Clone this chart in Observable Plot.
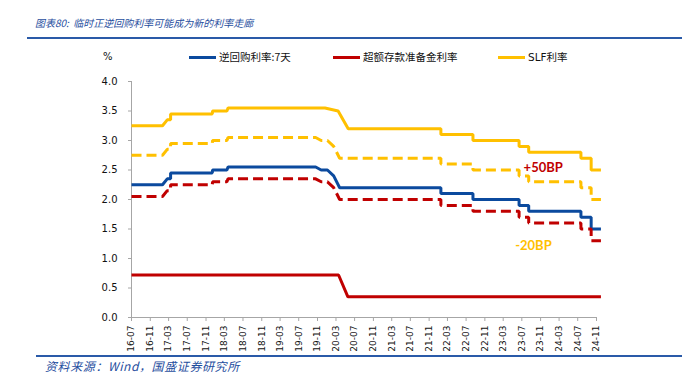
<!DOCTYPE html>
<html><head><meta charset="utf-8">
<script src="https://cdn.jsdelivr.net/npm/d3@7"></script>
<script src="https://cdn.jsdelivr.net/npm/@observablehq/plot@0.6"></script>
<style>
body{margin:0;background:#fff;}
#wrap{position:relative;width:682px;height:378px;overflow:hidden;font-family:"Noto Sans CJK SC",sans-serif;}
.title{position:absolute;left:35px;top:15px;font-size:10px;font-style:italic;color:#1f4e9e;white-space:nowrap;line-height:16px;}
.foot{position:absolute;left:45px;top:358px;font-size:12px;letter-spacing:0.6px;font-style:italic;color:#1f4e9e;white-space:nowrap;line-height:16px;}
.rule{position:absolute;right:0;height:2px;background:#2a5aa8;}
.leg{position:absolute;top:49px;font-size:10.5px;line-height:16px;color:#111;white-space:nowrap;display:flex;align-items:center;}
.sw{display:inline-block;width:27px;height:3px;margin-right:3px;}
#chart{position:absolute;left:0;top:60px;}
</style>
</head>
<body>
<div id="wrap">
  <div class="title">图表80:&nbsp;&nbsp;临时正逆回购利率可能成为新的利率走廊</div>
  <div class="rule" style="left:27px;top:37px;"></div>
  <div id="legend"></div>
  <div id="chart"></div>
  <div class="rule" style="left:36px;top:355px;"></div>
  <div class="foot">资料来源：Wind，国盛证券研究所</div>
</div>
<script>
// ---- data ----
const seriesNames = ["逆回购利率:7天", "超额存款准备金利率", "SLF利率"];
const seriesColors = ["#0b4a9e", "#c00000", "#ffc000"];

const repoDates = ["2016-07-01","2017-01-20","2017-02-20","2017-03-14","2017-03-14","2017-12-12","2017-12-14","2018-03-18","2018-03-25","2019-10-20","2019-11-25","2020-01-05","2020-02-15","2020-03-25","2022-01-17","2022-01-17","2022-08-15","2022-08-15","2023-06-13","2023-06-13","2023-08-15","2023-08-15","2024-07-22","2024-07-22","2024-09-27","2024-09-27","2024-11-30"];
const repoValues = [2.25,2.25,2.35,2.35,2.45,2.45,2.50,2.50,2.55,2.55,2.50,2.50,2.40,2.20,2.20,2.10,2.10,2.00,2.00,1.90,1.90,1.80,1.80,1.70,1.70,1.50,1.50];

// 逆回购 +50BP (upper, yellow dashed)
const upperValues = [2.75,2.75,2.85,2.85,2.95,2.95,3.00,3.00,3.05,3.05,3.00,3.00,2.90,2.70,2.70,2.60,2.60,2.50,2.50,2.40,2.40,2.30,2.30,2.20,2.20,2.00,2.00];
// 逆回购 -20BP (lower, red dashed)
const lowerValues = [2.05,2.05,2.15,2.15,2.25,2.25,2.30,2.30,2.35,2.35,2.30,2.30,2.20,2.00,2.00,1.90,1.90,1.80,1.80,1.70,1.70,1.60,1.60,1.50,1.50,1.30,1.30];

const slfDates = ["2016-07-01","2017-01-20","2017-02-20","2017-03-14","2017-03-14","2017-12-12","2017-12-14","2018-03-18","2018-03-25","2019-12-20","2020-03-15","2020-05-20","2022-01-17","2022-01-17","2022-08-15","2022-08-15","2023-06-13","2023-06-13","2023-08-15","2023-08-15","2024-07-22","2024-07-22","2024-09-27","2024-09-27","2024-11-30"];
const slfValues = [3.25,3.25,3.35,3.35,3.45,3.45,3.50,3.50,3.55,3.55,3.50,3.20,3.20,3.10,3.10,3.00,3.00,2.90,2.90,2.80,2.80,2.70,2.70,2.50,2.50];

const ioerDates = ["2016-07-01","2020-03-18","2020-05-18","2024-11-30"];
const ioerValues = [0.72,0.72,0.35,0.35];

const xTickLabels = ["16-07","16-11","17-03","17-07","17-11","18-03","18-07","18-11","19-03","19-07","19-11","20-03","20-07","20-11","21-03","21-07","21-11","22-03","22-07","22-11","23-03","23-07","23-11","24-03","24-07","24-11"];
const yTicks = [0,0.5,1,1.5,2,2.5,3,3.5,4];

const noteTexts = ["+50BP", "-20BP"];
const noteDates = ["2023-11-18", "2023-09-15"];
const noteValues = [2.54, 1.22];
const noteColors = ["#c00000", "#ffc000"];

// ---- build ----
const parse = d3.utcParse("%Y-%m-%d");
const parseTick = d3.utcParse("%y-%m");
const fmtTick = d3.utcFormat("%y-%m");
const rows = (dates, vals) => dates.map((d, i) => ({date: parse(d), value: vals[i]}));
const repo = rows(repoDates, repoValues);
const upper = rows(repoDates, upperValues);
const lower = rows(repoDates, lowerValues);
const slf = rows(slfDates, slfValues);
const ioer = rows(ioerDates, ioerValues);
const tickDates = xTickLabels.map(parseTick);
const notes = noteTexts.map((t, i) => ({text: t, date: parse(noteDates[i]), value: noteValues[i], color: noteColors[i]}));

// legend
const legend = document.getElementById("legend");
const pct = document.createElement("div");
pct.className = "leg"; pct.style.left = "103px"; pct.style.fontFamily = "DejaVu Sans"; pct.style.fontSize = "10px";
pct.textContent = "%";
legend.appendChild(pct);
const legLeft = [189, 333, 498];
seriesNames.forEach((n, i) => {
  const d = document.createElement("div");
  d.className = "leg"; d.style.left = legLeft[i] + "px";
  if (i === 2) d.style.fontFamily = "DejaVu Sans, 'Noto Sans CJK SC'";
  d.innerHTML = `<span class="sw" style="background:${seriesColors[i]}"></span><span>${n}</span>`;
  legend.appendChild(d);
});

const solid = {strokeWidth: 3, strokeLinejoin: "miter", strokeLinecap: "butt"};
const dashed = {strokeWidth: 3, strokeLinejoin: "miter", strokeLinecap: "butt", strokeDasharray: "10,5"};

const plot = Plot.plot({
  width: 682, height: 296,
  marginLeft: 131, marginRight: 86, marginTop: 21, marginBottom: 39,
  style: {fontFamily: "DejaVu Sans", fontSize: "10px", color: "#111", background: "transparent", overflow: "visible"},
  x: {type: "utc", domain: [tickDates[0], tickDates[tickDates.length - 1]]},
  y: {domain: [0, 4]},
  marks: [
    Plot.ruleY([0], {stroke: "#a6a6a6", strokeWidth: 1}),
    Plot.ruleX([tickDates[0]], {y1: 0, y2: 4, stroke: "#a6a6a6"}),
    Plot.axisY({ticks: yTicks, tickFormat: d => d.toFixed(1), tickSize: 3, tickPadding: 11, stroke: "#a6a6a6", label: null}),
    Plot.axisX({ticks: tickDates, tickFormat: fmtTick, tickRotate: -90, tickSize: 4, tickPadding: 4, fontSize: 9, stroke: "#a6a6a6", label: null}),
    Plot.line(slf, {x: "date", y: "value", stroke: seriesColors[2], ...solid}),
    Plot.line(upper, {x: "date", y: "value", stroke: seriesColors[2], ...dashed}),
    Plot.line(ioer, {x: "date", y: "value", stroke: seriesColors[1], ...solid}),
    Plot.line(repo, {x: "date", y: "value", stroke: seriesColors[0], ...solid}),
    Plot.line(lower, {x: "date", y: "value", stroke: seriesColors[1], ...dashed}),
    Plot.text(notes, {x: "date", y: "value", text: "text", fill: "color", fontSize: 13, fontWeight: "bold", fontFamily: "Lato"})
  ]
});
document.getElementById("chart").appendChild(plot);
</script>
</body></html>
